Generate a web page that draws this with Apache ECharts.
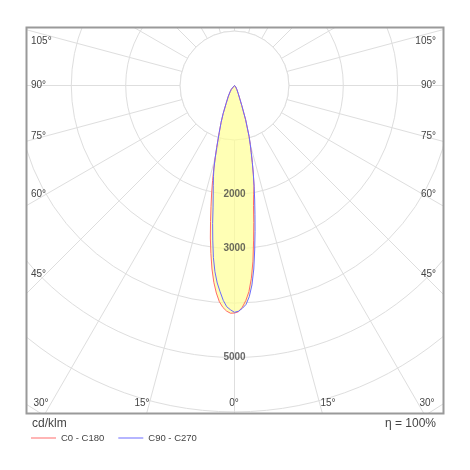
<!DOCTYPE html>
<html><head><meta charset="utf-8">
<script src="https://cdn.jsdelivr.net/npm/echarts@6/dist/echarts.min.js"></script>
<style>html,body{margin:0;padding:0;background:#fff}#c{width:470px;height:470px}</style>
</head><body><div id="c"></div>
<script>
// gamma angles (deg) and luminous intensity (cd/klm)
const gammaDeg = [0,1,2,3,4,5,6,7,8,9,10,11,12,13,14,15,16,18,20,22,25,30,35,40,50,60,70,80,90];
const c0   = [4180,4160,4080,3960,3800,3557,3247,2878,2545,2232,2030,1876,1665,1457,1273,1119,973,663,390,250,160,90,55,35,15,8,3,1,0];
const c180 = [4185,4187,4150,4085,3985,3830,3637,3398,3120,2838,2537,2263,2020,1790,1566,1365,1185,908,720,558,365,225,140,90,40,18,6,2,0];
const c90  = [4170,4150,4100,4032,3892,3680,3392,3046,2712,2405,2137,1894,1665,1457,1273,1119,973,663,390,250,160,90,55,35,15,8,3,1,0];
const c270 = [4170,4125,4070,3955,3800,3644,3443,3185,2870,2570,2270,2052,1878,1719,1561,1365,1185,908,720,558,365,225,140,90,40,18,6,2,0];
const radiusTicks = [2000,3000,5000];
const sideAngleLabels = ['105°','90°','75°','60°','45°'];
const bottomAngleLabels = ['30°','15°','0°','15°','30°'];
const seriesNames = ['C0 - C180','C90 - C270'];

// closed curve: left half (360-g) from 90 down to 0, then right half 0..90
function curve(right, left){
  const pts = [];
  for (let i = gammaDeg.length-1; i >= 1; i--) pts.push([left[i], 360 - gammaDeg[i]]);
  pts.push([(left[0]+right[0])/2, 0]);
  for (let i = 1; i < gammaDeg.length; i++) pts.push([right[i], gammaDeg[i]]);
  return pts;
}
const redPts = curve(c0, c180);
const bluePts = curve(c90, c270);
const unionPts = redPts.map((p, i) => [Math.max(p[0], bluePts[i][0]), p[1]]);

const chart = echarts.init(document.getElementById('c'));
const F = 'Liberation Sans, Arial, sans-serif';
const X0 = 26.5, Y0 = 27.5, X1 = 443.5, Y1 = 413.5;

const graphics = [
  {type:'rect', shape:{x:0,y:0,width:470,height:Y0}, style:{fill:'#fff'}, z:10, silent:true},
  {type:'rect', shape:{x:0,y:0,width:X0,height:470}, style:{fill:'#fff'}, z:10, silent:true},
  {type:'rect', shape:{x:X1,y:0,width:470-X1,height:470}, style:{fill:'#fff'}, z:10, silent:true},
  {type:'rect', shape:{x:0,y:Y1,width:470,height:470-Y1}, style:{fill:'#fff'}, z:10, silent:true},
  {type:'rect', shape:{x:X0,y:Y0,width:X1-X0,height:Y1-Y0}, style:{fill:null, stroke:'#9a9a9a', lineWidth:2}, z:11, silent:true},
  {type:'text', x:32, y:424, style:{text:'cd/klm', font:'12px '+F, fill:'#444', textAlign:'left', textVerticalAlign:'middle'}, z:12},
  {type:'text', x:436, y:424, style:{text:'η = 100%', font:'12px '+F, fill:'#444', textAlign:'right', textVerticalAlign:'middle'}, z:12}
];
const sideY = [41, 85, 136, 194, 274];
sideAngleLabels.forEach((t, i) => {
  graphics.push({type:'text', x:31, y:sideY[i], style:{text:t, font:'10px '+F, fill:'#444', textAlign:'left', textVerticalAlign:'middle'}, z:12});
  graphics.push({type:'text', x:436, y:sideY[i], style:{text:t, font:'10px '+F, fill:'#444', textAlign:'right', textVerticalAlign:'middle'}, z:12});
});
const bottomX = [41, 142, 234, 328, 427];
bottomAngleLabels.forEach((t, i) => {
  graphics.push({type:'text', x:bottomX[i], y:403, style:{text:t, font:'10px '+F, fill:'#444', textAlign:'center', textVerticalAlign:'middle'}, z:12});
});

chart.setOption({
  animation: false,
  backgroundColor: '#fff',
  polar: { center: [234.5, 85.5], radius: 54.4*8 },
  angleAxis: {
    type:'value', min:0, max:360, interval:15, startAngle:-90, clockwise:false,
    axisLine:{show:false}, axisTick:{show:false}, axisLabel:{show:false},
    splitLine:{show:true, lineStyle:{color:'#dedede', width:1}}
  },
  radiusAxis: {
    type:'value', min:0, max:8000, interval:1000,
    axisLine:{show:false}, axisTick:{show:false}, axisLabel:{show:false},
    splitLine:{show:true, lineStyle:{color:'#dedede', width:1}}
  },
  legend: {
    data: seriesNames, left: 26, top: 428, z: 20, selectedMode: false,
    icon: 'rect', itemWidth: 25, itemHeight: 1, itemGap: 14,
    textStyle: {fontFamily: F, fontSize: 9.5, color: '#444'}
  },
  graphic: { elements: graphics },
  series: [
    { type:'custom', coordinateSystem:'polar', z:1, silent:true, data:[[0,0]],
      renderItem: (params, api) => {
        const c = api.coord([0,0]); const p = api.coord([1000,0]);
        const r = Math.hypot(p[0]-c[0], p[1]-c[1]);
        return {type:'circle', shape:{cx:c[0], cy:c[1], r:r}, style:{fill:'#fff', stroke:'#dedede', lineWidth:1}};
      }
    },
    { type:'custom', coordinateSystem:'polar', z:2, silent:true, data:[[0,0]],
      renderItem: (params, api) => {
        const pts = unionPts.map(p => api.coord(p));
        return {type:'polygon', shape:{points:pts}, style:{fill:'rgba(255,255,150,0.7)', stroke:null}};
      }
    },
    { name: seriesNames[0], type:'line', coordinateSystem:'polar', z:3, data: redPts,
      showSymbol:false, smooth:false, color:'#ff6a6a', lineStyle:{width:1, color:'#ff6a6a'} },
    { name: seriesNames[1], type:'line', coordinateSystem:'polar', z:3, data: bluePts,
      showSymbol:false, smooth:false, color:'#6a6aff', lineStyle:{width:1, color:'#6a6aff'} },
    { type:'scatter', coordinateSystem:'polar', z:4, symbolSize:0, silent:true,
      data: radiusTicks.map(v => [v, 0]),
      label:{show:true, position:'inside', formatter: p => String(p.value[0]),
        fontFamily:F, fontSize:10, fontWeight:'bold', color:'#444'} }
  ]
});
</script></body></html>
